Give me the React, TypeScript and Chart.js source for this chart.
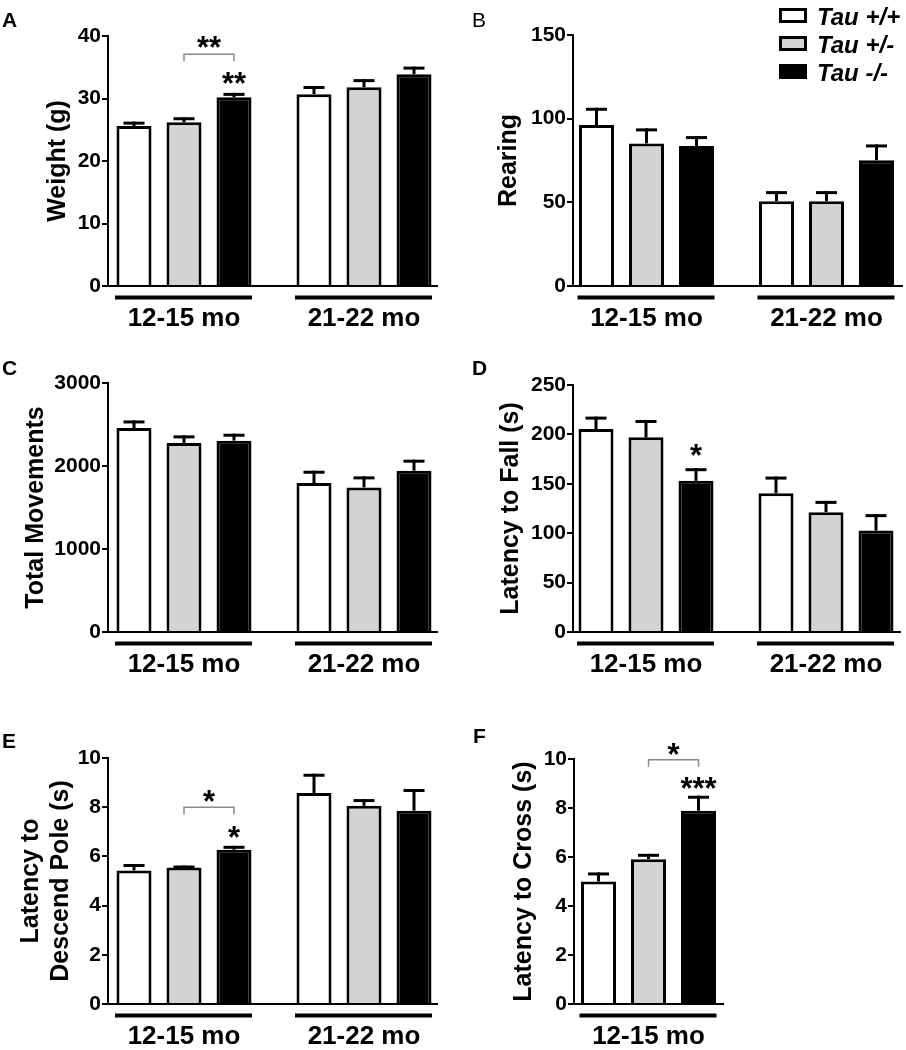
import React, { useEffect, useRef } from 'react';
import { Chart, registerables } from 'chart.js';
Chart.register(...registerables);

// ---------- shared labels ----------
const groupLabels = ['12-15 mo', '21-22 mo'];
const youngOnly = ['12-15 mo'];
const genotypeLabels = ['Tau +/+', 'Tau +/-', 'Tau -/-'];
const genotypeFills = ['#ffffff', '#d3d3d3', '#000000'];

// ---------- data (rows: genotype, columns: age group) ----------
const weightMean = [[25.6, 30.7], [26.2, 31.8], [30.2, 33.9]];
const weightSem = [[0.7, 1.3], [0.8, 1.3], [0.7, 1.2]];
const weightTicks = [0, 10, 20, 30, 40];

const rearingMean = [[96.2, 50.7], [85.2, 50.7], [83.6, 75.2]];
const rearingSem = [[10.3, 6.0], [9.0, 6.0], [6.0, 9.4]];
const rearingTicks = [0, 50, 100, 150];

const movementsMean = [[2458, 1795], [2277, 1742], [2305, 1943]];
const movementsSem = [[91, 148], [92, 133], [84, 133]];
const movementsTicks = [0, 1000, 2000, 3000];

const fallMean = [[205.5, 140.5], [197, 121.3], [153, 102.7]];
const fallSem = [[12.5, 16.8], [17.6, 11.4], [12.8, 16.6]];
const fallTicks = [0, 50, 100, 150, 200, 250];

const poleMean = [[5.43, 8.58], [5.55, 8.06], [6.27, 7.86]];
const poleSem = [[0.26, 0.78], [0.08, 0.27], [0.16, 0.88]];
const poleTicks = [0, 2, 4, 6, 8, 10];

const crossMean = [[5.0], [5.91], [7.89]];
const crossSem = [[0.37], [0.22], [0.61]];
const crossTicks = [0, 2, 4, 6, 8, 10];

type Bracket = { group: number; from: number; to: number; y: number; labelY: number; label: string };
type Star = { group: number; bar: number; y: number; label: string };
type Panel = {
  letter: string; letterBold: boolean; letterAt: [number, number];
  box: [number, number, number, number];
  left: number; top: number; right: number; bottom: number; g1: number;
  groups: string[]; means: number[][]; sems: number[][]; ticks: number[];
  title: string | string[]; titlePad: number;
  brackets: Bracket[]; stars: Star[]; legend?: boolean;
};

const panels: Panel[] = [
  { letter: 'A', letterBold: true, letterAt: [2, 27], box: [0, 0, 453, 340],
    left: 108, top: 36, right: 437, bottom: 286, g1: 184,
    groups: groupLabels, means: weightMean, sems: weightSem, ticks: weightTicks,
    title: 'Weight (g)', titlePad: 43,
    brackets: [{ group: 0, from: 1, to: 2, y: 37.1, labelY: 39.0, label: '**' }],
    stars: [{ group: 0, bar: 2, y: 33.3, label: '**' }] },
  { letter: 'B', letterBold: false, letterAt: [472, 27], box: [453, 0, 453, 340],
    left: 573, top: 35, right: 902, bottom: 286, g1: 646.5,
    groups: groupLabels, means: rearingMean, sems: rearingSem, ticks: rearingTicks,
    title: 'Rearing', titlePad: 41, brackets: [], stars: [], legend: true },
  { letter: 'C', letterBold: true, letterAt: [2, 375], box: [0, 340, 453, 350],
    left: 108, top: 383, right: 437, bottom: 632, g1: 184,
    groups: groupLabels, means: movementsMean, sems: movementsSem, ticks: movementsTicks,
    title: 'Total Movements', titlePad: 21, brackets: [], stars: [] },
  { letter: 'D', letterBold: true, letterAt: [472, 375], box: [453, 340, 453, 350],
    left: 573, top: 385, right: 900, bottom: 632, g1: 646,
    groups: groupLabels, means: fallMean, sems: fallSem, ticks: fallTicks,
    title: 'Latency to Fall (s)', titlePad: 43, brackets: [],
    stars: [{ group: 0, bar: 2, y: 184.3, label: '*' }] },
  { letter: 'E', letterBold: true, letterAt: [2, 748], box: [0, 690, 453, 360],
    left: 108, top: 758, right: 437, bottom: 1004, g1: 184,
    groups: groupLabels, means: poleMean, sems: poleSem, ticks: poleTicks,
    title: ['Latency to', 'Descend Pole (s)'], titlePad: 16,
    brackets: [{ group: 0, from: 1, to: 2, y: 8.0, labelY: 8.44, label: '*' }],
    stars: [{ group: 0, bar: 2, y: 7.01, label: '*' }] },
  { letter: 'F', letterBold: true, letterAt: [473, 743], box: [453, 690, 453, 360],
    left: 574, top: 759, right: 723, bottom: 1004, g1: 648.5,
    groups: youngOnly, means: crossMean, sems: crossSem, ticks: crossTicks,
    title: 'Latency to Cross (s)', titlePad: 56,
    brackets: [{ group: 0, from: 1, to: 2, y: 9.97, labelY: 10.42, label: '*' }],
    stars: [{ group: 0, bar: 2, y: 9.03, label: '***' }] },
];

const SANS = 'Liberation Sans';
const STAR_FONT = `bold 31px "${SANS}"`;

function drawCenteredText(ctx: CanvasRenderingContext2D, text: string, x: number, cy: number) {
  const m = ctx.measureText(text);
  const asc = m.actualBoundingBoxAscent;
  const desc = m.actualBoundingBoxDescent;
  ctx.fillText(text, x, cy - (desc - asc) / 2);
}

function buildChart(canvas: HTMLCanvasElement, p: Panel) {
  const [bx, by, bw, bh] = p.box;
  const left = p.left - bx;
  const top = p.top - by;
  const right = p.right - bx;
  const bottom = p.bottom - by;
  const g1 = p.g1 - bx;
  const unit = 180;
  const xMin = (left - g1) / unit;
  const xMax = (right - g1) / unit;
  const spacing = p.groups.length > 1 ? unit : right - left;
  const catPct = 150 / spacing;

  const datasets = genotypeLabels.map((label, i) => ({
    label,
    data: p.means[i].map((v, g) => ({ x: g, y: v })),
    backgroundColor: genotypeFills[i],
    borderColor: '#000000',
    borderWidth: 3,
    borderSkipped: 'start' as const,
    categoryPercentage: catPct,
    barPercentage: 0.7,
  }));

  const plugin = {
    id: 'panelDecor' + p.letter,
    afterDatasetsDraw(chart: any) {
      const ctx = chart.ctx as CanvasRenderingContext2D;
      const ys = chart.scales.y;
      ctx.save();
      ctx.fillStyle = '#000';
      chart.data.datasets.forEach((_: any, di: number) => {
        const meta = chart.getDatasetMeta(di);
        meta.data.forEach((bar: any, gi: number) => {
          const errTop = ys.getPixelForValue(p.means[di][gi] + p.sems[di][gi]);
          ctx.fillRect(bar.x - 1.5, errTop, 3, bar.y - errTop);
          ctx.fillRect(bar.x - 10.5, errTop, 21, 3);
        });
      });
      ctx.restore();
    },
    afterDraw(chart: any) {
      const ctx = chart.ctx as CanvasRenderingContext2D;
      const xs = chart.scales.x;
      const ys = chart.scales.y;
      const area = chart.chartArea;
      ctx.save();
      // group underlines
      ctx.fillStyle = '#000';
      p.groups.forEach((_, g) => {
        const c = xs.getPixelForValue(g);
        ctx.fillRect(c - 69, area.bottom + 9.5, 137, 4);
      });
      // brackets
      p.brackets.forEach((b) => {
        const x1 = chart.getDatasetMeta(b.from).data[b.group].x;
        const x2 = chart.getDatasetMeta(b.to).data[b.group].x;
        const yy = ys.getPixelForValue(b.y);
        ctx.strokeStyle = '#8a8a8a';
        ctx.lineWidth = 1.5;
        ctx.beginPath();
        ctx.moveTo(x1, yy + 7);
        ctx.lineTo(x1, yy);
        ctx.lineTo(x2, yy);
        ctx.lineTo(x2, yy + 7);
        ctx.stroke();
        ctx.fillStyle = '#000';
        ctx.font = STAR_FONT;
        ctx.textAlign = 'center';
        ctx.textBaseline = 'alphabetic';
        drawCenteredText(ctx, b.label, (x1 + x2) / 2, ys.getPixelForValue(b.labelY));
      });
      // stars over bars
      p.stars.forEach((s) => {
        const x = chart.getDatasetMeta(s.bar).data[s.group].x;
        ctx.fillStyle = '#000';
        ctx.font = STAR_FONT;
        ctx.textAlign = 'center';
        ctx.textBaseline = 'alphabetic';
        drawCenteredText(ctx, s.label, x, ys.getPixelForValue(s.y));
      });
      // panel letter
      ctx.fillStyle = '#000';
      ctx.font = `${p.letterBold ? 'bold ' : ''}21px "${SANS}"`;
      ctx.textAlign = 'left';
      ctx.textBaseline = 'alphabetic';
      ctx.fillText(p.letter, p.letterAt[0] - bx, p.letterAt[1] - by);
      // legend
      if (p.legend) {
        const boxX = 779 - bx;
        const tops = [8, 36, 64];
        chart.data.datasets.forEach((ds: any, i: number) => {
          const t = tops[i] - by;
          ctx.fillStyle = '#000';
          ctx.fillRect(boxX, t, 28, 15);
          ctx.fillStyle = ds.backgroundColor;
          ctx.fillRect(boxX + 3, t + 3, 22, 9);
          ctx.fillStyle = '#000';
          ctx.font = `italic bold 24px "${SANS}"`;
          ctx.textAlign = 'left';
          ctx.textBaseline = 'alphabetic';
          drawCenteredText(ctx, ds.label, 817 - bx, t + 7.5);
        });
      }
      ctx.restore();
    },
  };

  const tk = p.ticks;
  return new Chart(canvas, {
    type: 'bar',
    data: { datasets } as any,
    plugins: [plugin],
    options: {
      responsive: false,
      animation: false,
      devicePixelRatio: 1,
      layout: { padding: { left: 0, top, right: bw - right, bottom: 0 } },
      plugins: { legend: { display: false }, tooltip: { enabled: false } },
      scales: {
        x: {
          type: 'linear',
          min: xMin,
          max: xMax,
          offset: false,
          bounds: 'data',
          afterBuildTicks: (s: any) => { s.ticks = p.groups.map((_, i) => ({ value: i })); },
          afterFit: (s: any) => { s.height = bh - bottom; },
          grid: { display: false, drawTicks: false },
          border: { display: true, color: '#000', width: 2 },
          ticks: {
            autoSkip: false, maxRotation: 0, minRotation: 0, padding: 17, color: '#000',
            font: { family: SANS, weight: 'bold', size: 26 },
            callback: (v: any) => p.groups[Math.round(Number(v))] ?? '',
          },
        },
        y: {
          min: tk[0],
          max: tk[tk.length - 1],
          afterFit: (s: any) => { s.width = left; },
          grid: { display: true, drawOnChartArea: false, drawTicks: true, tickLength: 6, color: '#000', lineWidth: 2 },
          border: { display: true, color: '#000', width: 2 },
          ticks: {
            stepSize: tk[1] - tk[0], padding: 1, color: '#000',
            font: { family: SANS, weight: 'bold', size: 21 },
            callback: (v: any) => String(v),
          },
          title: {
            display: true, text: p.title as any, color: '#000',
            font: { family: SANS, weight: 'bold', size: 25 },
            padding: { top: p.titlePad, bottom: 0 },
          },
        },
      },
    } as any,
  });
}

function PanelChart({ p }: { p: Panel }) {
  const ref = useRef<HTMLCanvasElement>(null);
  useEffect(() => {
    if (!ref.current) return;
    const chart = buildChart(ref.current, p);
    return () => chart.destroy();
  }, [p]);
  const [x, y, w, h] = p.box;
  return (
    <canvas
      ref={ref}
      width={w}
      height={h}
      style={{ position: 'absolute', left: x, top: y, width: w, height: h }}
    />
  );
}

export default function App() {
  return (
    <div style={{ position: 'absolute', left: 0, top: 0, width: 906, height: 1050, background: '#ffffff', overflow: 'hidden' }}>
      {panels.map((p) => <PanelChart key={p.letter} p={p} />)}
    </div>
  );
}
